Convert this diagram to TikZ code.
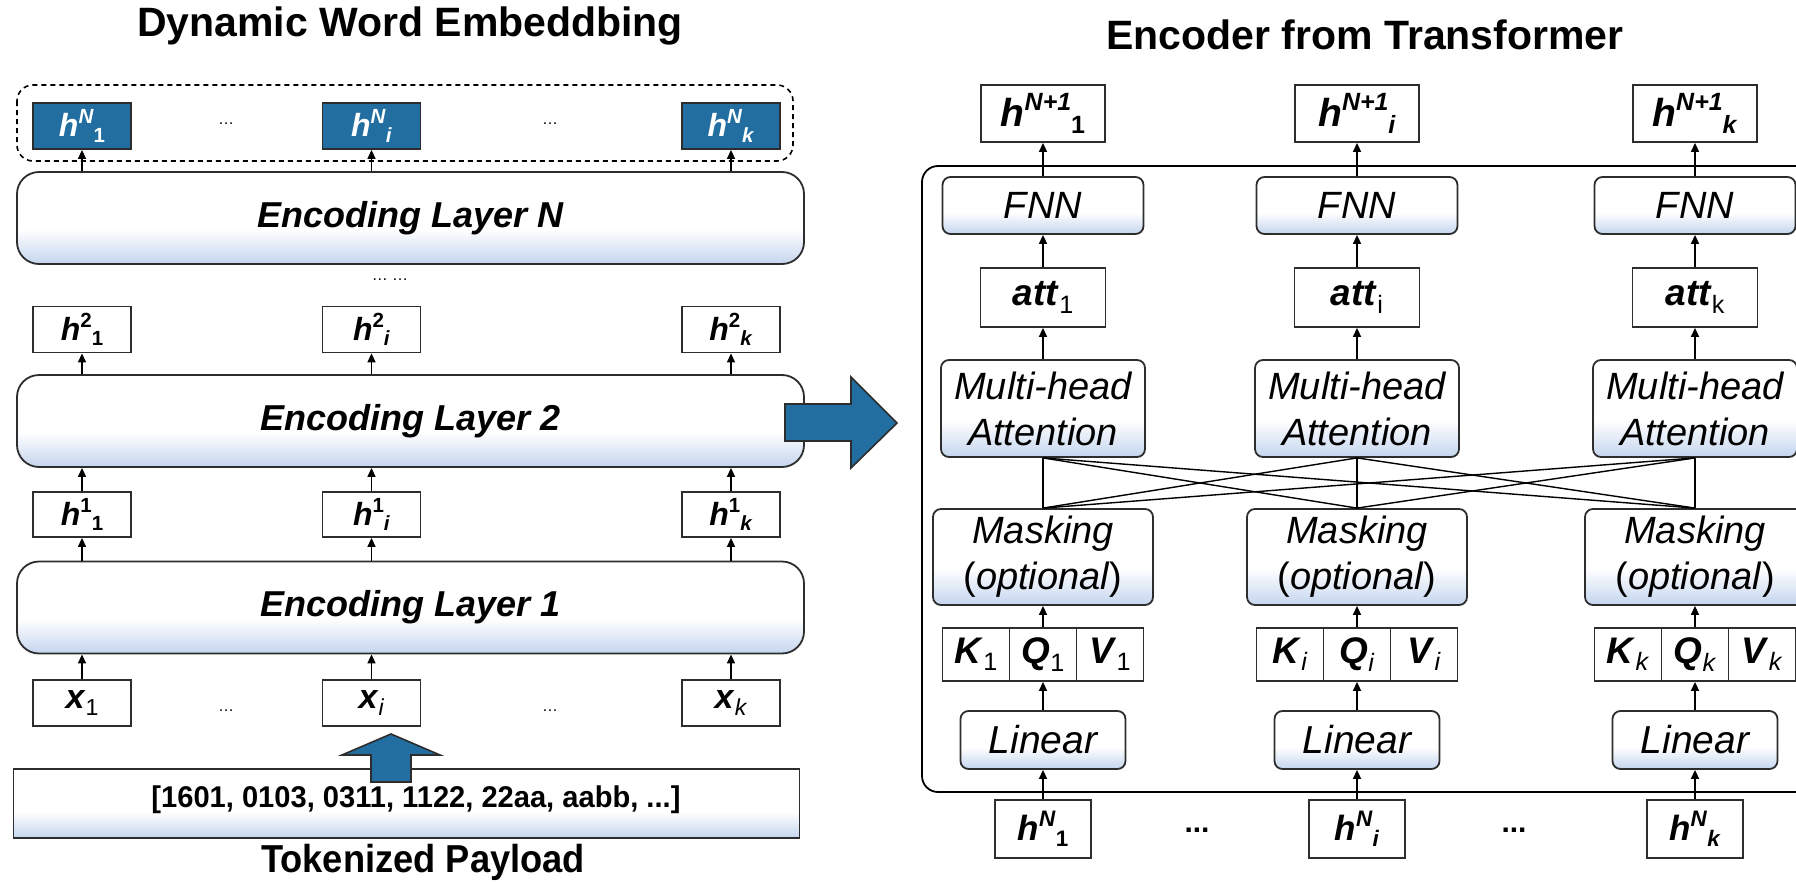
\documentclass[tikz,border=0pt]{standalone}
\usepackage{fontspec}
\setmainfont{Liberation Sans}
\usepackage{graphicx}
\usetikzlibrary{arrows.meta}

\definecolor{dblue}{RGB}{35,110,160}
\definecolor{lblue}{RGB}{196,213,238}
\definecolor{edge}{RGB}{45,45,45}
\pgfdeclareverticalshading{softblue}{100bp}{color(0bp)=(lblue); color(25bp)=(lblue); color(44bp)=(white); color(100bp)=(white)}

% label helpers: bold italic symbol, superscript then subscript
\newcommand\bi[1]{\textbf{\textit{#1}}}
\newcommand\fz[2]{\fontsize{#1}{#2}\selectfont}
\newcommand\supsub[3]{\bi{#1}\raisebox{.40em}{\scalebox{.64}{#2}}\raisebox{-.18em}{\scalebox{.64}{#3}}}
\newcommand\subonly[2]{\bi{#1}\raisebox{-.2em}{\scalebox{.68}{#2}}}

\begin{document}
\begin{tikzpicture}[x=1pt,y=-1pt,
  arr/.style={line width=1.5pt,-{Triangle[length=9pt,width=8pt]}},
  wire/.style={line width=1.4pt},
  cell/.style 2 args={draw=edge,line width=1.8pt,fill=white,inner sep=0pt,minimum width=#1,minimum height=#2},
  filled/.style 2 args={cell={#1}{#2},fill=dblue,text=white},
  soft/.style 2 args={draw=edge,line width=1.8pt,shade,shading=softblue,inner sep=0pt,rounded corners=8pt,minimum width=#1,minimum height=#2,align=center},
  layer/.style={soft={787}{92},rounded corners=22pt,font=\fz{36}{40}\bfseries\itshape},
  title/.style={font=\fz{41}{44}\bfseries},
  dots/.style={font=\fz{16}{16}},
  bigarrow/.style={draw=edge,line width=1.6pt,fill=dblue,line join=miter},
]
\useasboundingbox (0,0) rectangle (1796,883);

% ---------------- left: dynamic word embedding ----------------
\node[title] (ltitle) at (410,26) {Dynamic Word Embeddbing};

\draw[line width=1.6pt,dash pattern=on 5pt off 4pt,rounded corners=16pt]
  (17,85) rectangle (793,161);

\node[filled={98}{46}] (hn1) at (82,126)    {\fz{32}{32}\supsub{h}{\bi{N}}{\textbf{1}}};
\node[filled={98}{46}] (hn2) at (371.5,126) {\fz{32}{32}\supsub{h}{\bi{N}}{\bi{i}}};
\node[filled={98}{46}] (hn3) at (731,126)   {\fz{32}{32}\supsub{h}{\bi{N}}{\bi{k}}};
\node[dots] (dA) at (226,124) {\dots};
\node[dots] (dB) at (550,124) {\dots};

\node[layer] (encN) at (410.5,218) {Encoding Layer N};
\node[dots] (dC) at (390,280) {\dots\ \dots};

\node[cell={98}{46}] (h21) at (82,329.5)    {\fz{32}{32}\supsub{h}{\textbf{2}}{\textbf{1}}};
\node[cell={98}{46}] (h22) at (371.5,329.5) {\fz{32}{32}\supsub{h}{\textbf{2}}{\bi{i}}};
\node[cell={98}{46}] (h23) at (731,329.5)   {\fz{32}{32}\supsub{h}{\textbf{2}}{\bi{k}}};

\node[layer] (enc2) at (410.5,421) {Encoding Layer 2};

\node[cell={98}{45}] (h11) at (82,514.5)    {\fz{32}{32}\supsub{h}{\textbf{1}}{\textbf{1}}};
\node[cell={98}{45}] (h12) at (371.5,514.5) {\fz{32}{32}\supsub{h}{\textbf{1}}{\bi{i}}};
\node[cell={98}{45}] (h13) at (731,514.5)   {\fz{32}{32}\supsub{h}{\textbf{1}}{\bi{k}}};

\node[layer] (enc1) at (410.5,607.5) {Encoding Layer 1};

\node[cell={98}{46}] (x1) at (82,703)    {\fz{34}{34}\subonly{x}{1}};
\node[cell={98}{46}] (x2) at (371.5,703) {\fz{34}{34}\subonly{x}{\textit{i}}};
\node[cell={98}{46}] (x3) at (731,703)   {\fz{34}{34}\subonly{x}{\textit{k}}};
\node[dots] (dD) at (226,711) {\dots};
\node[dots] (dE) at (550,711) {\dots};

\node[soft={786}{69},rounded corners=0pt] (pay) at (406.5,803.5) {};
\node (paytext) at (416,800) {\scalebox{.97}[1]{\fz{30}{30}\bfseries [1601, 0103, 0311, 1122, 22aa, aabb, ...]}};
\node (paylabel) at (423,862) {\scalebox{.93}[1]{\fz{39}{40}\bfseries Tokenized Payload}};

% arrows between the stacked layers
\foreach \i in {1,2,3} {
  \draw[arr] (hn\i.south |- encN.north) -- (hn\i.south);
  \draw[arr] (h2\i.south |- enc2.north) -- (h2\i.south);
  \draw[arr] (h1\i.north) -- (h1\i.north |- enc2.south);
  \draw[arr] (h1\i.south |- enc1.north) -- (h1\i.south);
  \draw[arr] (x\i.north) -- (x\i.north |- enc1.south);
}

% block arrow from the payload up to the tokens
\draw[bigarrow] (371,782) -- (371,755) -- (342,755) -- (391,734) -- (440,755) -- (411,755) -- (411,782) -- cycle;

% block arrow into the encoder detail
\draw[bigarrow] (785,404) -- (851,404) -- (851,377) -- (897,423) -- (851,468) -- (851,441) -- (785,441) -- cycle;

% ---------------- right: encoder from transformer ----------------
\node[title] (rtitle) at (1365,35) {Encoder from Transformer};

\draw[line width=1.8pt,rounded corners=16pt] (922,166) rectangle (1840,792);

\foreach \c/\n/\s/\t/\u in {1043/1/\textbf{1}/1/1, 1357/2/\bi{i}/i/\textit{i}, 1695/3/\bi{k}/k/\textit{k}} {
  \node[cell={124}{57}] (ho\n) at (\c,113.5) {\fz{39}{39}\supsub{h}{\bi{N+1}}{\s}};
  \node[soft={201}{57},font=\fz{38}{40}\itshape] (fnn\n) at (\c,205.5) {FNN};
  \node[cell={125}{59}] (att\n) at (\c,297.5) {\fz{37}{37}\subonly{att}{\t}};
  \node[soft={204}{97},font=\fz{38}{46}\itshape] (mh\n) at (\c,408.5) {Multi-head\\Attention};
  \node[soft={220}{96},font=\fz{38}{46}\itshape] (mk\n) at (\c,557) {Masking\\\textup{(}optional\textup{)}};
  \node[cell={67}{53}] (k\n) at (\c-67,654.5) {\fz{37}{37}\subonly{K}{\u}};
  \node[cell={67}{53}] (q\n) at (\c,654.5)    {\fz{37}{37}\subonly{Q}{\u}};
  \node[cell={67}{53}] (v\n) at (\c+67,654.5) {\fz{37}{37}\subonly{V}{\u}};
  \node[soft={165}{58},font=\fz{39}{40}\itshape] (lin\n) at (\c,740) {Linear};
  \node[cell={96}{58}] (hin\n) at (\c,829) {\fz{35}{35}\supsub{h}{\bi{N}}{\s}};
  \draw[arr] (hin\n.north) -- (lin\n.south);
  \draw[arr] (lin\n.north) -- (q\n.south);
  \draw[arr] (q\n.north) -- (mk\n.south);
  \draw[arr] (mh\n.north) -- (att\n.south);
  \draw[arr] (att\n.north) -- (fnn\n.south);
  \draw[arr] (fnn\n.north) -- (ho\n.south);
}

% every masking block feeds every attention block
\foreach \a in {1,2,3} {
  \foreach \b in {1,2,3} {
    \draw[wire] (mk\a.north) -- (mh\b.south);
  }
}

\node[font=\fz{30}{30}\bfseries] (dF) at (1197,830) {...};
\node[font=\fz{30}{30}\bfseries] (dG) at (1514,830) {...};
\end{tikzpicture}
\end{document}
